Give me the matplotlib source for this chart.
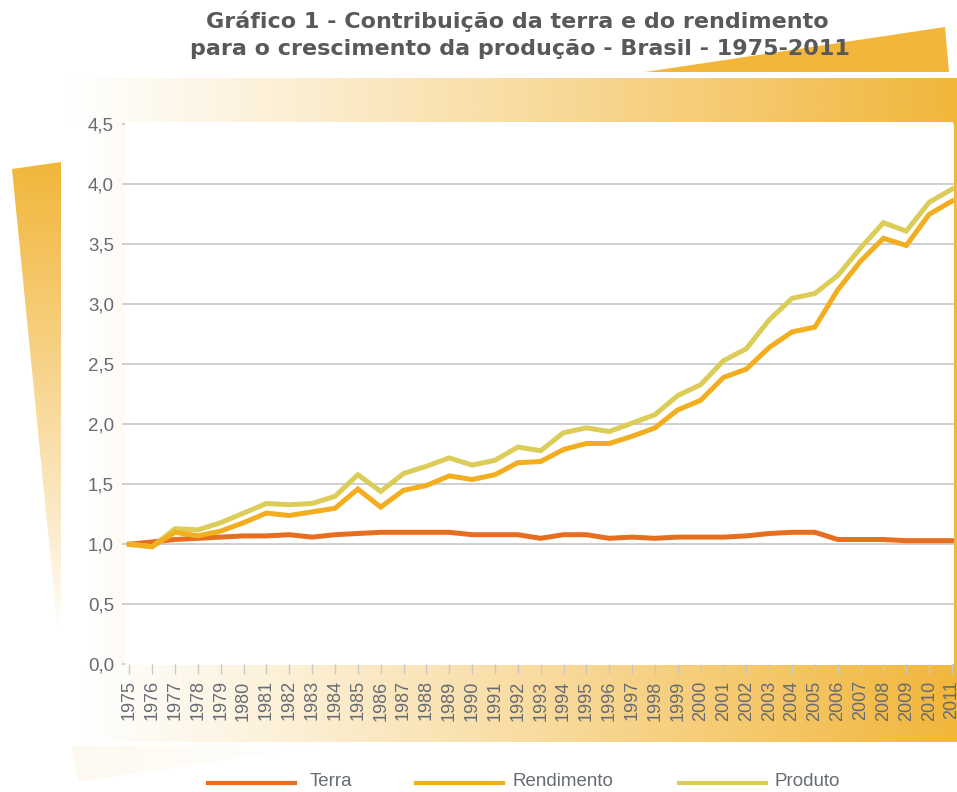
import numpy as np
from matplotlib import pyplot as plt
from matplotlib.patches import Polygon, Rectangle
from matplotlib.lines import Line2D

years = list(range(1975, 2012))
terra = [1.00, 1.02, 1.04, 1.05, 1.06, 1.07, 1.07, 1.08, 1.06, 1.08, 1.09, 1.10,
         1.10, 1.10, 1.10, 1.08, 1.08, 1.08, 1.05, 1.08, 1.08, 1.05, 1.06, 1.05,
         1.06, 1.06, 1.06, 1.07, 1.09, 1.10, 1.10, 1.04, 1.04, 1.04, 1.03, 1.03, 1.03]
rendimento = [1.00, 0.98, 1.10, 1.07, 1.11, 1.18, 1.26, 1.24, 1.27, 1.30, 1.46, 1.31,
              1.45, 1.49, 1.57, 1.54, 1.58, 1.68, 1.69, 1.79, 1.84, 1.84, 1.90, 1.97,
              2.12, 2.20, 2.39, 2.46, 2.64, 2.77, 2.81, 3.12, 3.36, 3.55, 3.49, 3.75, 3.86]
produto = [1.00, 0.98, 1.13, 1.12, 1.18, 1.26, 1.34, 1.33, 1.34, 1.40, 1.58, 1.44,
           1.59, 1.65, 1.72, 1.66, 1.70, 1.81, 1.78, 1.93, 1.97, 1.94, 2.01, 2.08,
           2.24, 2.33, 2.53, 2.63, 2.87, 3.05, 3.09, 3.24, 3.47, 3.68, 3.61, 3.85, 3.96]
yticks = [0.0, 0.5, 1.0, 1.5, 2.0, 2.5, 3.0, 3.5, 4.0, 4.5]
ylabels = ['0,0', '0,5', '1,0', '1,5', '2,0', '2,5', '3,0', '3,5', '4,0', '4,5']
series_names = ['Terra', 'Rendimento', 'Produto']
title1 = 'Gráfico 1 - Contribuição da terra e do rendimento'
title2 = 'para o crescimento da produção - Brasil - 1975-2011'

GOLD = np.array([242, 182, 58]) / 255
C_TERRA = '#e86e1f'
C_REND = '#f2ae1e'
C_PROD = '#dbcd58'
TXT = '#676b73'

plt.rcParams['font.family'] = ['Liberation Sans', 'DejaVu Sans']

W, H = 957, 792
fig = plt.figure(figsize=(W / 100, H / 100), dpi=100)

# background axes in pixel coordinates for the decorations
bg = fig.add_axes([0, 0, 1, 1], zorder=0)
bg.axis('off')


def hgrad(x0, x1, y0, y1, p=1.0, a0=0.0, a1=1.0):
    t = a0 + (a1 - a0) * np.linspace(0, 1, 300) ** p
    rgba = np.zeros((1, 300, 4))
    rgba[..., :3] = GOLD
    rgba[0, :, 3] = t
    return bg.imshow(rgba, extent=(x0, x1, y1, y0), aspect='auto', interpolation='bilinear')


def vgrad(x0, x1, y0, y1, p=1.0):
    t = (1 - np.linspace(0, 1, 300)) ** p
    rgba = np.zeros((300, 1, 4))
    rgba[..., :3] = GOLD
    rgba[:, 0, 3] = t
    return bg.imshow(rgba, extent=(x0, x1, y1, y0), aspect='auto', interpolation='bilinear')


# top band and bottom band
hgrad(60, 957, 78, 122, p=1.1)
hgrad(75, 957, 665, 742, p=1.1)
# faint strip left of the plot
hgrad(85, 126, 122, 665, a0=0.0, a1=0.06)
# right edge strip
bg.add_patch(Rectangle((953, 78), 4, 664, color=GOLD, lw=0))

# left wedge
wedge = Polygon([(12, 169), (61, 162), (61, 600), (58, 633)], closed=True,
                facecolor='none', edgecolor='none')
bg.add_patch(wedge)
im = vgrad(10, 62, 162, 633, p=0.9)
im.set_clip_path(wedge)

# top-right triangle
bg.add_patch(Polygon([(645, 72), (945, 27), (949, 72)], closed=True,
                     facecolor=GOLD, edgecolor='none'))

# faint bottom-left wedge
bw = Polygon([(72, 746), (330, 744), (78, 782)], closed=True,
             facecolor='none', edgecolor='none')
bg.add_patch(bw)
im = hgrad(72, 330, 744, 782, a0=0.08, a1=0.0)
im.set_clip_path(bw)

bg.set_xlim(0, W)
bg.set_ylim(H, 0)

# titles
for txt, xc, yc in [(title1, 517, 21), (title2, 520, 49)]:
    bg.text(xc, yc, txt, ha='center', va='center', fontsize=16,
            fontweight='bold', color='#595959', family='DejaVu Sans')

# legend drawn by hand
colors = [C_TERRA, C_REND, C_PROD]
line_x = [(208, 295), (416, 503), (679, 766)]
text_x = [310, 512, 775]
for name, c, (a, b), tx in zip(series_names, colors, line_x, text_x):
    bg.add_line(Line2D([a, b], [783, 783], color=c, lw=3))
    bg.text(tx, 781, name, ha='left', va='center', fontsize=13.5, color=TXT)

# main chart
left, right = 125 / W, 954 / W
bottom, top = 1 - 664.3 / H, 1 - 124.3 / H
ax = fig.add_axes([left, bottom, right - left, top - bottom], zorder=1)
ax.set_facecolor('white')

ax.plot(years, terra, color=C_TERRA, lw=3.6, solid_joinstyle='miter', zorder=3)
ax.plot(years, produto, color=C_PROD, lw=3.6, solid_joinstyle='miter', zorder=3)
ax.plot(years, rendimento, color=C_REND, lw=3.6, solid_joinstyle='miter', zorder=4)

ax.set_xlim(1975 - 4.3 / 22.85, 2011 + 2 / 22.85)
ax.set_ylim(0, 4.5)
ax.set_yticks(yticks)
ax.set_yticklabels(ylabels)
ax.set_xticks(years)
ax.set_xticklabels([str(y) for y in years], rotation=90)

for y in yticks[1:-1]:
    ax.axhline(y, color='#cccccc', lw=1.3, zorder=1)

for s in ax.spines.values():
    s.set_visible(False)

ax.tick_params(axis='x', length=7.5, width=1, color='#c8c8c8', pad=4,
               labelsize=13, labelcolor=TXT)
ax.tick_params(axis='y', length=2, width=1.3, color='#cccccc', pad=6,
               labelsize=13.5, labelcolor=TXT)

fig.savefig('out.png', dpi=100)
